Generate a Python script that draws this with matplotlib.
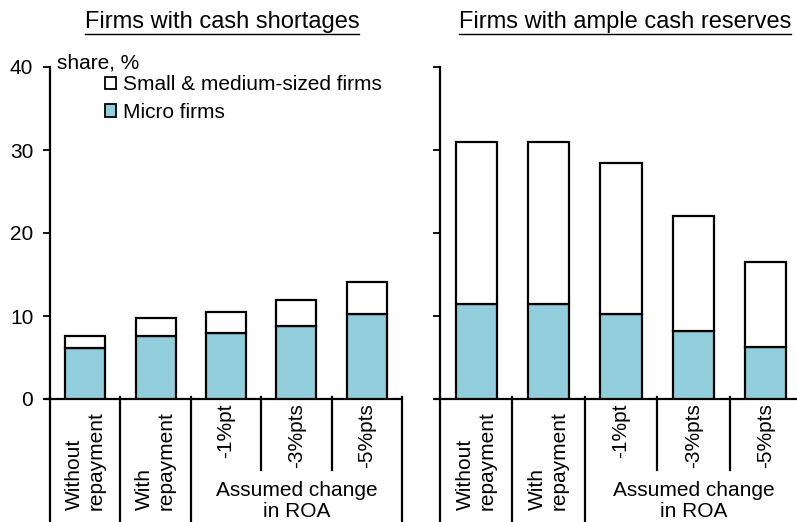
import matplotlib
matplotlib.use("Agg")
import matplotlib.pyplot as plt
from matplotlib.patches import Patch
from matplotlib.lines import Line2D

plt.rcParams['font.family'] = ['Liberation Sans', 'DejaVu Sans']

categories = ["Without\nrepayment", "With\nrepayment", "-1%pt", "-3%pts", "-5%pts"]
group_label = "Assumed change\nin ROA"
titles = ["Firms with cash shortages", "Firms with ample cash reserves"]

# stacked values: micro part and total (micro + small & medium)
short_micro = [6.2, 7.6, 7.9, 8.8, 10.2]
short_total = [7.6, 9.8, 10.5, 11.9, 14.1]
ample_micro = [11.4, 11.4, 10.3, 8.2, 6.3]
ample_total = [31.0, 31.0, 28.4, 22.0, 16.5]

yticks = [0, 10, 20, 30, 40]
blue = "#92CDDC"

W, H = 797, 522
fig = plt.figure(figsize=(W / 100, H / 100), dpi=100)

def px_rect(x0, x1, ytop, ybot):
    return [x0 / W, 1 - ybot / H, (x1 - x0) / W, (ybot - ytop) / H]

ax1 = fig.add_axes(px_rect(50, 402, 67, 399))
ax2 = fig.add_axes(px_rect(440, 802, 67, 399))

FS = 15
for k, (ax, micro, total) in enumerate([(ax1, short_micro, short_total), (ax2, ample_micro, ample_total)]):
    x = list(range(len(categories)))
    sme = [t - m for t, m in zip(total, micro)]
    ax.bar(x, micro, width=0.57, color=blue, edgecolor='black', linewidth=1.6, zorder=3)
    ax.bar(x, sme, bottom=micro, width=0.57, color='white', edgecolor='black', linewidth=1.6, zorder=3)
    ax.set_xlim(-0.5, 4.5)
    ax.set_ylim(0, 40)
    ax.set_yticks(yticks)
    ax.tick_params(axis='y', direction='out', length=5, width=1.3, labelsize=FS, pad=7)
    if k == 1:
        ax.set_yticklabels([])
    ax.set_xticks([])
    for s in ['top', 'right']:
        ax.spines[s].set_visible(False)
    ax.spines['left'].set_linewidth(1.6)
    ax.spines['bottom'].set_linewidth(1.6)
    ax.spines['bottom'].set_bounds(-0.57, 4.5)
    # separators below axis
    for b in [-0.5, 0.5, 1.5, 2.5, 3.5, 4.5]:
        ylow = -8.6 if b in (2.5, 3.5) else -16
        ax.plot([b, b], [0.3, ylow], color='black', lw=1.6, clip_on=False, zorder=4)
    # category labels
    for i, c in enumerate(categories):
        if i < 2:
            ax.text(i, -13.4, c, rotation=90, ha='center', va='bottom', multialignment='left',
                    fontsize=FS, linespacing=1.2, clip_on=False)
        else:
            ax.text(i, -0.5, c, rotation=90, ha='center', va='top',
                    fontsize=FS, clip_on=False)
    ax.text(3, -9.85, group_label, ha='center', va='top', fontsize=FS, linespacing=1.15, clip_on=False)

ax1.text(0.02, 1.013, "share, %", transform=ax1.transAxes, ha='left', va='center', fontsize=FS)
handles = [Patch(facecolor='white', edgecolor='black', linewidth=1.3),
           Patch(facecolor=blue, edgecolor='black', linewidth=1.3)]
ax1.legend(handles, ["Small & medium-sized firms", "Micro firms"], loc='upper left',
           bbox_to_anchor=(0.155, 0.975), frameon=False, fontsize=FS,
           handlelength=0.55, handleheight=0.55, handletextpad=0.35, labelspacing=0.4,
           borderpad=0, borderaxespad=0)

# titles with underline
fig.canvas.draw()
renderer = fig.canvas.get_renderer()
for cx_px, t in zip([222, 625], titles):
    txt = fig.text(cx_px / W, 1 - 22 / H, t, ha='center', va='center', fontsize=17)
    bb = txt.get_window_extent(renderer)
    y_line = (bb.y0 - 1) / H
    fig.add_artist(Line2D([bb.x0 / W, bb.x1 / W], [y_line, y_line], color='black', lw=1.0,
                          transform=fig.transFigure))

fig.savefig("out.png", dpi=100)
